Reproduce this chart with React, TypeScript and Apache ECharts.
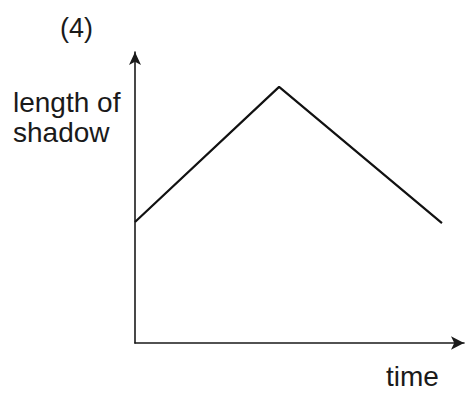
import React, { useEffect, useRef } from "react";
import * as echarts from "echarts";

const timeValues = [0, 4.38, 9.33];
const shadowValues = [4.16, 8.8, 4.12];
const panelLabel = "(4)";
const yLabelLines = ["length of", "shadow"];
const xLabel = "time";

export default function App() {
  const ref = useRef<HTMLDivElement>(null);
  useEffect(() => {
    document.body.style.margin = "0";
    const chart = echarts.init(ref.current!, null, { renderer: "svg" });
    const font = "'Liberation Sans', Arial, sans-serif";
    chart.setOption({
      animation: false,
      backgroundColor: "#ffffff",
      grid: { left: 135, top: 52, right: 1, bottom: 51, containLabel: false },
      xAxis: {
        type: "value",
        min: 0,
        max: 10,
        axisLine: {
          show: true,
          symbol: ["none", "arrow"],
          symbolSize: [10, 13],
          lineStyle: { color: "#1a1a1a", width: 1.6 },
        },
        axisTick: { show: false },
        axisLabel: { show: false },
        splitLine: { show: false },
      },
      yAxis: {
        type: "value",
        min: 0,
        max: 10,
        axisLine: {
          show: true,
          symbol: ["none", "arrow"],
          symbolSize: [9, 13],
          lineStyle: { color: "#1a1a1a", width: 1.6 },
        },
        axisTick: { show: false },
        axisLabel: { show: false },
        splitLine: { show: false },
      },
      series: [
        {
          type: "line",
          data: timeValues.map((t, i) => [t, shadowValues[i]]),
          showSymbol: false,
          symbol: "none",
          lineStyle: { color: "#111111", width: 2.2 },
        },
      ],
      graphic: [
        {
          type: "text",
          left: 60,
          top: 14,
          style: { text: panelLabel, font: `27px ${font}`, fill: "#1a1a1a" },
        },
        {
          type: "text",
          left: 13,
          top: 88,
          style: { text: yLabelLines[0], font: `28px ${font}`, fill: "#1a1a1a" },
        },
        {
          type: "text",
          left: 13,
          top: 118,
          style: { text: yLabelLines[1], font: `28px ${font}`, fill: "#1a1a1a" },
        },
        {
          type: "text",
          left: 386,
          top: 362,
          style: { text: xLabel, font: `28px ${font}`, fill: "#1a1a1a" },
        },
      ],
    });
    return () => chart.dispose();
  }, []);
  return <div ref={ref} style={{ width: 465, height: 394 }} />;
}
